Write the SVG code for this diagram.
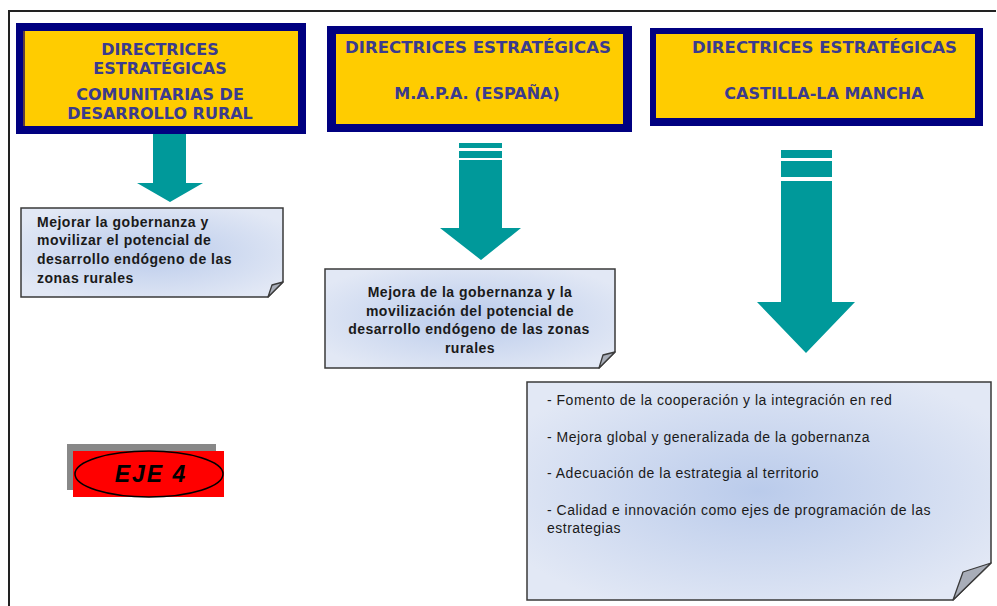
<svg xmlns="http://www.w3.org/2000/svg" width="997" height="606" viewBox="0 0 997 606">
<style>
.hdrO{fill:#000080}
.hdrI{fill:#FFCC00}
.ht{font-family:"DejaVu Sans",Verdana,sans-serif;font-weight:bold;font-size:16px;fill:#3B3B8E;text-anchor:middle}
.note{fill:url(#ng);stroke:#3a3a3a;stroke-width:1.5}
.fold{fill:#A8ADB8;stroke:#3a3a3a;stroke-width:1.3;stroke-linejoin:round}
.nb{font-family:"Liberation Sans",Arial,sans-serif;font-weight:bold;font-size:14px;letter-spacing:0.5px;fill:#1a1a1a}
.nr{font-family:"Liberation Sans",Arial,sans-serif;font-size:14px;letter-spacing:0.5px;fill:#1a1a1a}
.arr{fill:#00999A}
</style>
<defs>
<radialGradient id="ng" cx="50%" cy="50%" r="60%">
<stop offset="0" stop-color="#BACBEB"/>
<stop offset="1" stop-color="#E2E8F5"/>
</radialGradient>
</defs>
<rect width="997" height="606" fill="#fff"/>
<g id="frame" fill="none" stroke="#222" stroke-width="2">
<path d="M9,606 V11 H996"/>
</g>
<g id="box1">
<rect class="hdrO" x="16" y="23" width="290" height="111"/>
<rect class="hdrI" x="25" y="31" width="273" height="95"/>
<line x1="24" y1="31" x2="24" y2="126" stroke="#C08000" stroke-width="1"/>
<text class="ht" x="160" y="55">DIRECTRICES</text>
<text class="ht" x="160" y="74">ESTRATÉGICAS</text>
<text class="ht" x="160" y="100">COMUNITARIAS DE</text>
<text class="ht" x="160" y="119">DESARROLLO RURAL</text>
</g>
<g id="box2">
<rect class="hdrO" x="327" y="26" width="305" height="106"/>
<rect class="hdrI" x="336" y="34" width="287" height="90"/>
<text class="ht" x="478" y="53" textLength="266" lengthAdjust="spacingAndGlyphs">DIRECTRICES ESTRATÉGICAS</text>
<text class="ht" x="477" y="99">M.A.P.A. (ESPAÑA)</text>
</g>
<g id="box3">
<rect class="hdrO" x="650" y="28" width="333" height="98"/>
<rect class="hdrI" x="656" y="34" width="319" height="84"/>
<text class="ht" x="824.5" y="53" textLength="265" lengthAdjust="spacingAndGlyphs">DIRECTRICES ESTRATÉGICAS</text>
<text class="ht" x="824" y="99">CASTILLA-LA MANCHA</text>
</g>
<g id="connectors">
<path class="arr" d="M153,134 H186 V183 H203 L170,202 L137,183 H153 Z"/>
<rect class="arr" x="459" y="143" width="43" height="5"/>
<rect class="arr" x="459" y="151" width="43" height="7"/>
<path class="arr" d="M459,160 H502 V228 H521 L481,260 L440,228 H459 Z"/>
<rect class="arr" x="781" y="150" width="51" height="8"/>
<rect class="arr" x="781" y="161" width="51" height="16"/>
<path class="arr" d="M781,181 H832 V302 H855 L806,353 L757,302 H781 Z"/>
</g>
<g id="note1">
<path class="note" d="M21,208 H283 V282 L268,297 H21 Z"/>
<path class="fold" d="M268,297 L283,282 L272,285 Z"/>
<text class="nb" x="37" y="227">Mejorar la gobernanza y</text>
<text class="nb" x="37" y="245">movilizar el potencial de</text>
<text class="nb" x="37" y="264">desarrollo endógeno de las</text>
<text class="nb" x="37" y="283">zonas rurales</text>
</g>
<g id="note2">
<path class="note" d="M325,269 H615 V352 L599,368 H325 Z"/>
<path class="fold" d="M599,368 L615,352 L603,355 Z"/>
<g class="nb" text-anchor="middle">
<text x="470" y="297">Mejora de la gobernanza y la</text>
<text x="470" y="316">movilización del potencial de</text>
<text x="469" y="334">desarrollo endógeno de las zonas</text>
<text x="470" y="353">rurales</text>
</g>
</g>
<g id="note3">
<path class="note" d="M527,382 H991 V563 L953,600 H527 Z"/>
<path class="fold" d="M953,600 L991,563 L963,572 Z"/>
<text class="nr" x="547" y="405">- Fomento de la cooperación  y la integración  en red</text>
<text class="nr" x="547" y="442">- Mejora global y generalizada  de  la gobernanza</text>
<text class="nr" x="547" y="478">- Adecuación  de  la estrategia  al territorio</text>
<text class="nr" x="547" y="515">- Calidad e innovación  como ejes de programación  de las</text>
<text class="nr" x="547" y="533">estrategias</text>
</g>
<g id="eje4">
<rect x="67" y="444" width="149" height="46" fill="#888"/>
<rect x="73" y="451" width="151" height="46" fill="#FF0000"/>
<ellipse cx="149" cy="474" rx="74" ry="23" fill="#FF0000" stroke="#000" stroke-width="1.5"/>
<text x="151" y="482" font-family="'Liberation Sans',Arial,sans-serif" font-weight="bold" font-style="italic" font-size="23" letter-spacing="2" text-anchor="middle" fill="#000">EJE 4</text>
</g>
</svg>
